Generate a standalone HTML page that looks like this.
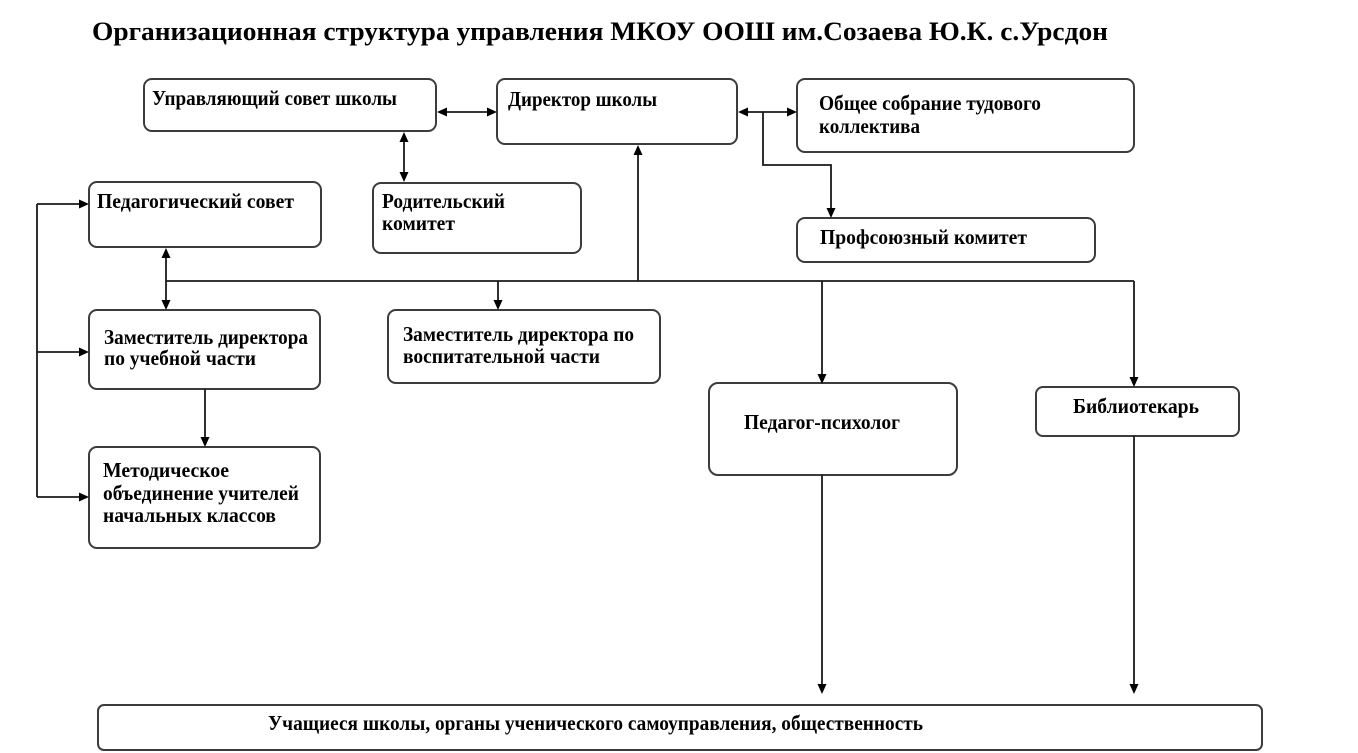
<!DOCTYPE html>
<html>
<head>
<meta charset="utf-8">
<style>
  html,body{margin:0;padding:0;background:#fff;}
  svg{display:block;}
  text{font-family:"Liberation Serif","DejaVu Serif",serif;font-weight:bold;fill:#000;}
</style>
</head>
<body>
<svg width="1358" height="753" viewBox="0 0 1358 753" xmlns="http://www.w3.org/2000/svg">
  <rect x="0" y="0" width="1358" height="753" fill="#fff"/>

  <!-- Title -->
  <text x="92" y="40" font-size="26" textLength="1016" lengthAdjust="spacingAndGlyphs">Организационная структура управления МКОУ ООШ им.Созаева Ю.К. с.Урсдон</text>

  <!-- Boxes -->
  <g fill="#fff" stroke="#3c3c3c" stroke-width="2">
    <rect x="144" y="79" width="292" height="52" rx="8"/>
    <rect x="497" y="79" width="240" height="65" rx="8"/>
    <rect x="797" y="79" width="337" height="73" rx="8"/>
    <rect x="89" y="182" width="232" height="65" rx="8"/>
    <rect x="373" y="183" width="208" height="70" rx="8"/>
    <rect x="797" y="218" width="298" height="44" rx="8"/>
    <rect x="89" y="310" width="231" height="79" rx="8"/>
    <rect x="388" y="310" width="272" height="73" rx="8"/>
    <rect x="709" y="383" width="248" height="92" rx="9"/>
    <rect x="1036" y="387" width="203" height="49" rx="7"/>
    <rect x="89" y="447" width="231" height="101" rx="8"/>
    <rect x="98" y="705" width="1164" height="45" rx="6"/>
  </g>

  <!-- Connectors -->
  <g stroke="#1a1a1a" stroke-width="1.8" fill="none">
    <line x1="440" y1="112" x2="494" y2="112"/>
    <line x1="741" y1="112" x2="794" y2="112"/>
    <polyline points="763,112 763,165 831,165 831,214"/>
    <line x1="404" y1="135" x2="404" y2="179"/>
    <line x1="166" y1="281" x2="1134" y2="281"/>
    <line x1="638" y1="281" x2="638" y2="148"/>
    <line x1="166" y1="250" x2="166" y2="307"/>
    <line x1="498" y1="281" x2="498" y2="306"/>
    <line x1="822" y1="281" x2="822" y2="380"/>
    <line x1="1134" y1="281" x2="1134" y2="383"/>
    <line x1="205" y1="389" x2="205" y2="443"/>
    <line x1="37" y1="204" x2="37" y2="497"/>
    <line x1="37" y1="204" x2="86" y2="204"/>
    <line x1="37" y1="352" x2="86" y2="352"/>
    <line x1="37" y1="497" x2="86" y2="497"/>
    <line x1="822" y1="475" x2="822" y2="690"/>
    <line x1="1134" y1="436" x2="1134" y2="690"/>
  </g>

  <!-- Arrowheads -->
  <g fill="#000">
    <polygon points="437,112 447,107.5 447,116.5"/>
    <polygon points="497,112 487,107.5 487,116.5"/>
    <polygon points="738,112 748,107.5 748,116.5"/>
    <polygon points="797,112 787,107.5 787,116.5"/>
    <polygon points="831,218 826.5,208 835.5,208"/>
    <polygon points="404,132 399.5,142 408.5,142"/>
    <polygon points="404,182 399.5,172 408.5,172"/>
    <polygon points="638,145 633.5,155 642.5,155"/>
    <polygon points="166,248 161.5,258 170.5,258"/>
    <polygon points="166,310 161.5,300 170.5,300"/>
    <polygon points="498,310 493.5,300 502.5,300"/>
    <polygon points="822,384 817.5,374 826.5,374"/>
    <polygon points="1134,387 1129.5,377 1138.5,377"/>
    <polygon points="205,447 200.5,437 209.5,437"/>
    <polygon points="89,204 79,199.5 79,208.5"/>
    <polygon points="89,352 79,347.5 79,356.5"/>
    <polygon points="89,497 79,492.5 79,501.5"/>
    <polygon points="822,694 817.5,684 826.5,684"/>
    <polygon points="1134,694 1129.5,684 1138.5,684"/>
  </g>

  <!-- Labels -->
  <g font-size="21">
    <text x="152" y="105" textLength="245" lengthAdjust="spacingAndGlyphs">Управляющий совет школы</text>
    <text x="508" y="106" textLength="149" lengthAdjust="spacingAndGlyphs">Директор школы</text>
    <text x="819" y="110" textLength="222" lengthAdjust="spacingAndGlyphs">Общее собрание тудового</text>
    <text x="819" y="133" textLength="101" lengthAdjust="spacingAndGlyphs">коллектива</text>
    <text x="97" y="208" textLength="197" lengthAdjust="spacingAndGlyphs">Педагогический совет</text>
    <text x="382" y="208" textLength="123" lengthAdjust="spacingAndGlyphs">Родительский</text>
    <text x="382" y="230" textLength="73" lengthAdjust="spacingAndGlyphs">комитет</text>
    <text x="820" y="244" textLength="207" lengthAdjust="spacingAndGlyphs">Профсоюзный комитет</text>
    <text x="104" y="344" textLength="204" lengthAdjust="spacingAndGlyphs">Заместитель директора</text>
    <text x="104" y="365" textLength="152" lengthAdjust="spacingAndGlyphs">по учебной части</text>
    <text x="403" y="341" textLength="231" lengthAdjust="spacingAndGlyphs">Заместитель директора по</text>
    <text x="403" y="363" textLength="197" lengthAdjust="spacingAndGlyphs">воспитательной части</text>
    <text x="744" y="429" textLength="156" lengthAdjust="spacingAndGlyphs">Педагог-психолог</text>
    <text x="1073" y="413" textLength="126" lengthAdjust="spacingAndGlyphs">Библиотекарь</text>
    <text x="103" y="477" textLength="126" lengthAdjust="spacingAndGlyphs">Методическое</text>
    <text x="103" y="500" textLength="196" lengthAdjust="spacingAndGlyphs">объединение учителей</text>
    <text x="103" y="522" textLength="173" lengthAdjust="spacingAndGlyphs">начальных классов</text>
    <text x="268" y="730" textLength="655" lengthAdjust="spacingAndGlyphs">Учащиеся школы, органы ученического самоуправления, общественность</text>
  </g>
</svg>
</body>
</html>
